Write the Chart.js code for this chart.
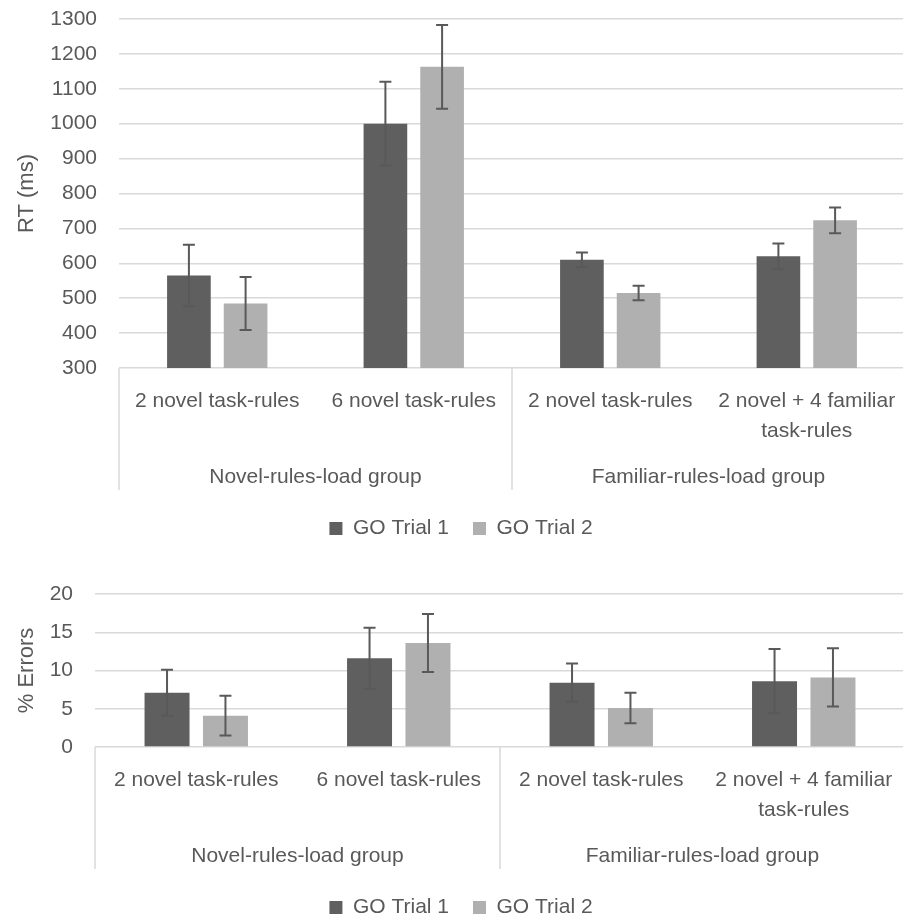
<!DOCTYPE html>
<html>
<head>
<meta charset="utf-8">
<script src="https://cdn.jsdelivr.net/npm/chart.js@4.4.1/dist/chart.umd.min.js"></script>
<style>
  html, body { margin: 0; padding: 0; background: #fff; overflow: hidden; }
  .box { position: absolute; left: 0; width: 922px; }
  #top { top: 0; height: 555px; }
  #bottom { top: 575px; height: 359px; }
</style>
</head>
<body>
<div class="box" id="top"><canvas id="rtChart"></canvas></div>
<div class="box" id="bottom"><canvas id="errChart"></canvas></div>
<script>
const categories = [
  "2 novel task-rules",
  "6 novel task-rules",
  "2 novel task-rules",
  ["2 novel + 4 familiar", "task-rules"],
];
const groups = ["Novel-rules-load group", "Familiar-rules-load group"];
const seriesNames = ["GO Trial 1", "GO Trial 2"];

// RT (ms)
const rtTrial1 = [565, 1000, 610, 620];
const rtTrial2 = [485, 1163, 515, 723];
const rtErr1 = [88, 120, 21, 37];
const rtErr2 = [76, 120, 21, 37];
const rtTicks = [300, 1300, 100]; // min, max, step

// % Errors
const errTrial1 = [7.1, 11.6, 8.4, 8.6];
const errTrial2 = [4.1, 13.6, 5.1, 9.1];
const errErr1 = [3.0, 4.0, 2.5, 4.2];
const errErr2 = [2.6, 3.8, 2.0, 3.8];
const errTicks = [0, 20, 5];

const TEXT = "#595959";
const GRID = "#d9d9d9";
const FONT = "'Liberation Sans', Arial, sans-serif";

// draws the +/- whiskers on every bar
const errorBars = {
  id: "errorBars",
  afterDatasetsDraw(chart) {
    const { ctx } = chart;
    const y = chart.scales.y;
    ctx.save();
    ctx.strokeStyle = "#595959";
    ctx.lineWidth = 2;
    chart.data.datasets.forEach((ds, i) => {
      chart.getDatasetMeta(i).data.forEach((bar, j) => {
        const hi = y.getPixelForValue(ds.data[j] + ds.errors[j]);
        const lo = y.getPixelForValue(ds.data[j] - ds.errors[j]);
        ctx.beginPath();
        ctx.moveTo(bar.x, hi);
        ctx.lineTo(bar.x, lo);
        ctx.moveTo(bar.x - 6, hi);
        ctx.lineTo(bar.x + 6, hi);
        ctx.moveTo(bar.x - 6, lo);
        ctx.lineTo(bar.x + 6, lo);
        ctx.stroke();
      });
    });
    ctx.restore();
  },
};

// second label row (groups) and the separators under the axis
const groupAxis = {
  id: "groupAxis",
  afterDraw(chart) {
    const { ctx, chartArea } = chart;
    const x = chart.scales.x;
    const mid = (x.getPixelForValue(1) + x.getPixelForValue(2)) / 2;
    const bottom = chartArea.bottom;
    ctx.save();
    ctx.strokeStyle = GRID;
    ctx.lineWidth = 1.5;
    [chartArea.left, mid, chartArea.right].forEach((px) => {
      ctx.beginPath();
      ctx.moveTo(px, bottom);
      ctx.lineTo(px, bottom + 122);
      ctx.stroke();
    });
    ctx.fillStyle = TEXT;
    ctx.font = "21px " + FONT;
    ctx.textAlign = "center";
    ctx.textBaseline = "middle";
    ctx.fillText(groups[0], (chartArea.left + mid) / 2, bottom + 109);
    ctx.fillText(groups[1], (mid + chartArea.right) / 2, bottom + 109);
    ctx.restore();
  },
};

const makeChart = (id, d1, d2, e1, e2, ticks, title, axisWidth) => {
  return new Chart(document.getElementById(id), {
    type: "bar",
    data: {
      labels: categories,
      datasets: [
        { label: seriesNames[0], data: d1, errors: e1, backgroundColor: "#5f5f5f" },
        { label: seriesNames[1], data: d2, errors: e2, backgroundColor: "#b0b0b0" },
      ],
    },
    options: {
      responsive: true,
      maintainAspectRatio: false,
      animation: false,
      categoryPercentage: 0.577,
      barPercentage: 0.77,
      layout: { padding: { top: 19, right: 17, bottom: 6, left: 17 } },
      plugins: {
        tooltip: { enabled: false },
        legend: {
          position: "bottom",
          labels: {
            boxWidth: 13,
            boxHeight: 13,
            padding: 24,
            color: TEXT,
            font: { family: FONT, size: 21 },
          },
        },
      },
      scales: {
        x: {
          grid: { display: false, drawTicks: false },
          border: { display: false },
          ticks: {
            color: TEXT,
            padding: 18,
            maxRotation: 0,
            autoSkip: false,
            font: { family: FONT, size: 21, lineHeight: 1.43 },
          },
          afterFit: (scale) => { scale.height = 126; },
        },
        y: {
          min: ticks[0],
          max: ticks[1],
          ticks: {
            stepSize: ticks[2],
            color: TEXT,
            padding: 22,
            font: { family: FONT, size: 21 },
            callback: (v) => String(v),
          },
          grid: { color: GRID, lineWidth: 1.5, drawTicks: false },
          border: { display: false },
          title: {
            display: true,
            text: title,
            color: TEXT,
            padding: { top: 0, bottom: 0 },
            font: { family: FONT, size: 22, lineHeight: 0.9 },
          },
          afterFit: (scale) => {
            scale.width = axisWidth;
            scale.paddingTop = 0;
            scale.paddingBottom = 0;
          },
        },
      },
    },
    plugins: [errorBars, groupAxis],
  });
};

makeChart("rtChart", rtTrial1, rtTrial2, rtErr1, rtErr2, rtTicks, "RT (ms)", 102);
makeChart("errChart", errTrial1, errTrial2, errErr1, errErr2, errTicks, "% Errors", 78);
</script>
</body>
</html>
